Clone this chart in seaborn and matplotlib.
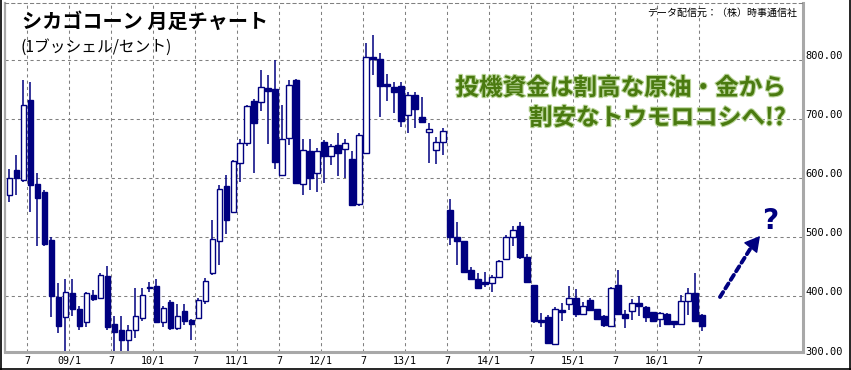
import numpy as np
import pandas as pd
import matplotlib
matplotlib.use("Agg")
import matplotlib.pyplot as plt
import matplotlib.transforms as mtransforms
import matplotlib.patheffects as pe
from matplotlib.lines import Line2D
import seaborn as sns

# ---------------- data (monthly candles, Apr 2008 - Jul 2016, cents/bushel) -------------
start_month = "2008-04"
open_ = [571, 614, 596, 732, 590, 577, 495, 399, 366, 405,
         379, 357, 402, 398, 435, 353, 343, 327, 343, 363,
         414, 418, 357, 390, 346, 375, 360, 363, 392, 439,
         494, 586, 543, 625, 659, 731, 728, 752, 750, 605,
         667, 766, 590, 646, 608, 661, 638, 656, 649, 632,
         557, 642, 805, 801, 759, 754, 756, 706, 741, 703,
         678, 648, 661, 546, 500, 493, 444, 429, 424, 422,
         433, 464, 501, 519, 466, 419, 360, 366, 319, 377,
         387, 397, 371, 394, 378, 367, 350, 420, 371, 375,
         388, 382, 373, 361, 371, 358, 353, 392, 405, 369]
high = [615, 639, 765, 763, 609, 580, 501, 423, 429, 429,
        383, 408, 410, 439, 451, 367, 367, 352, 414, 414,
        424, 429, 383, 394, 387, 387, 361, 398, 431, 529,
        589, 605, 631, 666, 724, 733, 783, 775, 800, 724,
        765, 767, 666, 666, 651, 665, 658, 676, 666, 645,
        676, 829, 842, 812, 776, 763, 763, 745, 745, 737,
        693, 669, 684, 564, 525, 494, 450, 440, 441, 436,
        462, 504, 519, 525, 472, 420, 372, 369, 382, 389,
        418, 412, 391, 398, 379, 368, 416, 445, 377, 395,
        401, 384, 374, 373, 372, 359, 403, 415, 440, 370]
low = [560, 572, 594, 543, 486, 486, 365, 338, 293, 367,
       343, 348, 392, 395, 344, 300, 300, 300, 330, 359,
       408, 356, 348, 344, 344, 352, 326, 361, 387, 437,
       453, 506, 541, 594, 654, 608, 714, 658, 615, 603,
       656, 590, 572, 580, 576, 592, 622, 603, 600, 552,
       552, 641, 775, 704, 731, 710, 686, 677, 684, 693,
       626, 624, 639, 487, 453, 441, 428, 412, 416, 407,
       432, 463, 485, 464, 424, 355, 349, 321, 317, 359,
       377, 366, 368, 376, 361, 349, 348, 371, 347, 360,
       367, 356, 357, 349, 353, 347, 353, 369, 356, 342]
close = [600, 600, 723, 588, 567, 488, 401, 350, 407, 379,
         350, 405, 396, 437, 349, 340, 327, 344, 367, 403,
         416, 357, 380, 346, 367, 359, 354, 394, 426, 497,
         581, 529, 629, 659, 722, 693, 754, 748, 628, 666,
         758, 592, 647, 601, 646, 638, 655, 643, 659, 555,
         673, 804, 801, 755, 755, 746, 697, 741, 717, 695,
         683, 661, 680, 501, 494, 442, 429, 415, 421, 433,
         459, 501, 513, 466, 425, 358, 357, 322, 378, 374,
         398, 371, 384, 377, 362, 352, 415, 371, 364, 388,
         383, 366, 359, 372, 353, 353, 392, 405, 359, 350]
y_labels = ["300.00", "400.00", "500.00", "600.00", "700.00", "800.00"]
y_levels = [300, 400, 500, 600, 700, 800]

title = "シカゴコーン 月足チャート"
unit = "(1ブッシェル/セント)"
source = "データ配信元：（株）時事通信社"
msg1 = "投機資金は割高な原油・金から"
msg2 = "割安なトウモロコシへ!?"

# ---------------- frame ----------------
df = pd.DataFrame({"open": open_, "high": high, "low": low, "close": close})
df["date"] = pd.date_range(start_month, periods=len(df), freq="MS")
df["idx"] = np.arange(len(df))

sns.set_theme(style="white")
plt.rcParams["font.family"] = ["Noto Sans CJK JP", "DejaVu Sans"]

W, H = 851, 370
fig = plt.figure(figsize=(W / 100, H / 100), dpi=100)
fig.patch.set_facecolor("white")
ax = fig.add_axes([5 / W, 18 / H, 798 / W, 349 / H])
ax.set_facecolor("white")

navy = "#000080"
grid_c = "#808080"
axis_c = "#a8a8a8"

ax.set_xlim(-0.62, 113.4)
ax.set_ylim(306, 896)

# grid
for lv in y_levels[1:]:
    ax.axhline(lv, color=grid_c, lw=0.75, ls=(0, (3, 3)), zorder=1)

tick_mask = df["date"].dt.month.isin([1, 7])
tick_pos = (df.loc[tick_mask, "idx"] - 0.45).tolist()
tick_lab = [("7" if d.month == 7 else d.strftime("%y/1")) for d in df.loc[tick_mask, "date"]]
for xp in tick_pos:
    ax.axvline(xp, color=grid_c, lw=0.75, ls=(0, (3, 3)), zorder=1)

# candles
up = df["close"] >= df["open"]
ax.vlines(df["idx"], df["low"], df["high"], color=navy, lw=1.1, zorder=2)
body_bottom = np.minimum(df["open"], df["close"])
body_h = np.maximum(np.abs(df["close"] - df["open"]), 1.2)
faces = np.where(up, "white", navy)
ax.bar(df["idx"], body_h, bottom=body_bottom, width=0.8, color=faces,
       edgecolor=navy, linewidth=1.0, zorder=3)

# axes styling
ax.set_xticks(tick_pos)
ax.set_xticklabels(tick_lab, fontfamily="DejaVu Sans Mono", fontsize=7.2, color="black")
ax.set_yticks([])
ax.tick_params(axis="x", length=0, pad=3)
for s in ["right", "bottom", "left"]:
    ax.spines[s].set_color(axis_c)
    ax.spines[s].set_linewidth(2.2)
ax.spines["left"].set_linewidth(1.6)
ax.spines["top"].set_color(grid_c)
ax.spines["top"].set_linewidth(0.75)
ax.spines["top"].set_linestyle((0, (3, 3)))

# y labels on the right
ytrans = mtransforms.offset_copy(ax.get_yaxis_transform(), fig=fig, x=2, y=4, units="dots")
for lv, lab in zip(y_levels, y_labels):
    ax.text(1.0, lv, lab, transform=ytrans, ha="left", va="center",
            fontfamily="DejaVu Sans Mono", fontsize=7.5, color="black", clip_on=False)

# texts
fig.text(22 / W, 1 - 21 / H, title, fontsize=14.5, fontweight="bold", ha="left", va="center",
         color="black")
fig.text(21 / W, 1 - 47 / H, unit, fontsize=11.3, ha="left", va="center", color="black")
fig.text(797 / W, 1 - 13 / H, source, fontsize=7.2, ha="right", va="center", color="black")

glow = [pe.withStroke(linewidth=1.6, foreground="#b9d498")]
fig.text(786 / W, 1 - 88 / H, msg1, fontsize=17, fontweight="bold", ha="right", va="center",
         color="#4a7a10", path_effects=glow)
fig.text(786 / W, 1 - 118 / H, msg2, fontsize=17, fontweight="bold", ha="right", va="center",
         color="#4a7a10", path_effects=glow)

# dashed arrow and question mark (axes-fraction annotation)
p0 = ((720 - 5) / 798, (H - 297 - 18) / 349)
p1 = ((752 - 5) / 798, (H - 246 - 18) / 349)
p2 = ((760 - 5) / 798, (H - 236 - 18) / 349)
ax.annotate("", xy=p1, xycoords="axes fraction", xytext=p0, textcoords="axes fraction",
            arrowprops=dict(arrowstyle="-", color=navy, lw=2.8,
                            linestyle=(0, (1.5, 1.1)), shrinkA=0, shrinkB=0))
ax.annotate("", xy=p2, xycoords="axes fraction", xytext=p1, textcoords="axes fraction",
            arrowprops=dict(arrowstyle="-|>,head_length=0.8,head_width=0.45", color=navy,
                            lw=1.0, shrinkA=0, shrinkB=0))
fig.text(770 / W, 1 - 221 / H, "?", fontsize=20, fontweight="bold", ha="center", va="center",
         color=navy, fontfamily="DejaVu Sans")

# outer frame
fig.add_artist(Line2D([0.5 / W, 0.5 / W], [0, 1], transform=fig.transFigure, color="black", lw=1.2))
fig.add_artist(Line2D([1 - 1 / W, 1 - 1 / W], [0, 1], transform=fig.transFigure, color="black", lw=1.2))
fig.add_artist(Line2D([0, 1], [1 / H, 1 / H], transform=fig.transFigure, color="black", lw=1.2))

fig.savefig("out.png", dpi=100, facecolor="white")
